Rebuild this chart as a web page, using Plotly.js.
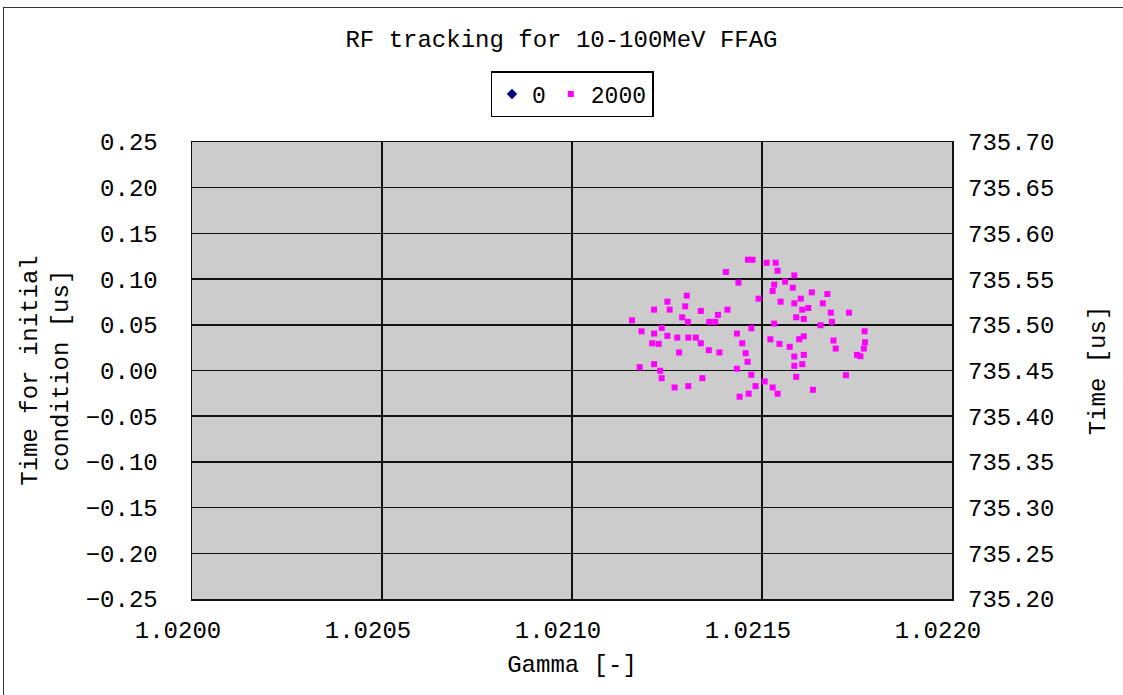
<!DOCTYPE html>
<html>
<head>
<meta charset="utf-8">
<script src="https://cdn.plot.ly/plotly-3.0.1.min.js"></script>
<style>
  html, body { margin: 0; padding: 0; background: #ffffff; overflow: hidden; }
  #frame { position: absolute; left: 3px; top: 7px; width: 1300px; height: 900px; border: 1.5px solid #333; pointer-events: none; z-index: 5; }
  #chart { position: absolute; left: 0; top: 0; width: 1123px; height: 695px; }
</style>
</head>
<body>
<div id="chart"></div>
<div id="frame"></div>
<script>
// Series "0" (initial condition) - no point visible in the plotted range
const gamma0 = [null];
const time0 = [null];

// Series "2000" (after 2000 turns): Gamma [-] and Time [us]
const gamma2000 = [
  1.021158, 1.021183, 1.021216, 1.021251, 1.021257, 1.021302, 1.021298, 1.021290, 1.021305, 1.021236,
  1.021216, 1.021251, 1.021277, 1.021211, 1.021228, 1.021282, 1.021178, 1.021216, 1.021232, 1.021236,
  1.021270, 1.021306, 1.021306, 1.021463, 1.021475, 1.021405, 1.021438, 1.021339, 1.021384, 1.021409,
  1.021491, 1.021361, 1.021377, 1.021472, 1.021434, 1.021326, 1.021339, 1.021448, 1.021360, 1.021388,
  1.021457, 1.021462, 1.021434, 1.021472, 1.021343, 1.021483, 1.021465, 1.021441, 1.021512, 1.021536,
  1.021541, 1.021585, 1.021561, 1.021532, 1.021528, 1.021581, 1.021631, 1.021672, 1.021549, 1.021585,
  1.021602, 1.021606, 1.021622, 1.021660, 1.021590, 1.021610, 1.021532, 1.021654, 1.021681, 1.021522,
  1.021546, 1.021573, 1.021598, 1.021610, 1.021585, 1.021610, 1.021585, 1.021606, 1.021590, 1.021507,
  1.021528, 1.021541, 1.021634, 1.021729, 1.021684, 1.021770, 1.021688, 1.021694, 1.021771, 1.021768,
  1.021750, 1.021759, 1.021721
];
const time2000 = [
  735.5049, 735.4929, 735.5166, 735.5253, 735.5166, 735.5319, 735.5202, 735.5082, 735.5032, 735.4966,
  735.4904, 735.4879, 735.4860, 735.4798, 735.4791, 735.4697, 735.4536, 735.4569, 735.4497, 735.4416,
  735.4314, 735.4329, 735.4860, 735.5712, 735.5712, 735.5578, 735.5461, 735.5152, 735.5108, 735.5166,
  735.5286, 735.5032, 735.5032, 735.4962, 735.4904, 735.4860, 735.4798, 735.4798, 735.4722, 735.4697,
  735.4689, 735.4595, 735.4519, 735.4453, 735.4416, 735.4329, 735.4246, 735.4213, 735.5679, 735.5679,
  735.5592, 735.5540, 735.5472, 735.5439, 735.5370, 735.5406, 735.5355, 735.5337, 735.5253, 735.5235,
  735.5286, 735.5166, 735.5184, 735.5235, 735.5082, 735.5064, 735.5013, 735.4995, 735.5133, 735.4842,
  735.4791, 735.4759, 735.4842, 735.4874, 735.4653, 735.4671, 735.4551, 735.4569, 735.4431, 735.4380,
  735.4314, 735.4246, 735.4289, 735.5133, 735.5032, 735.4929, 735.4828, 735.4740, 735.4809, 735.4740,
  735.4671, 735.4656, 735.4449
];

const chartTitle = "RF tracking for 10-100MeV FFAG";
const xTitle = "Gamma [-]";
const yTitle = "Time for initial<br>condition [us]";
const y2Title = "Time [us]";

const FONT = "'Liberation Mono', 'Courier New', monospace";
const FS = 24;

const traces = [
  {
    x: gamma0, y: time0, name: "0", type: "scatter", mode: "markers",
    yaxis: "y",
    marker: { symbol: "diamond", size: 8, color: "#000080", line: { width: 0 } }
  },
  {
    x: gamma2000, y: time2000, name: "2000", type: "scatter", mode: "markers",
    yaxis: "y2",
    marker: { symbol: "square", size: 6, color: "#ff00ff", line: { width: 0 } }
  }
];

const layout = {
  width: 1123, height: 695,
  margin: { l: 192, r: 171, t: 142, b: 96, pad: 0 },
  paper_bgcolor: "#ffffff",
  plot_bgcolor: "#cccccc",
  font: { family: FONT, size: FS, color: "#000000" },
  title: {
    text: chartTitle, font: { family: FONT, size: FS, color: "#000" },
    xref: "container", x: 0.5, xanchor: "center",
    yref: "container", y: 1 - 39 / 695, yanchor: "middle"
  },
  showlegend: true,
  legend: {
    orientation: "h", x: 0.5, xanchor: "center", xref: "paper",
    y: 1 + (142 - 94) / 457, yanchor: "middle", yref: "paper",
    bgcolor: "#ffffff", bordercolor: "#000000", borderwidth: 1.5,
    font: { family: FONT, size: 23 }, itemwidth: 30, traceorder: "normal"
  },
  xaxis: {
    range: [1.0200, 1.0220], dtick: 0.0005, tick0: 1.0200, tickformat: ".4f",
    showgrid: true, gridcolor: "#111111", gridwidth: 1.5,
    showline: true, linecolor: "#111111", linewidth: 1.5, mirror: true,
    zeroline: false, ticks: "", ticklabelstandoff: 9, ticklabelshift: -14,
    tickfont: { family: FONT, size: FS },
    title: { text: xTitle, font: { family: FONT, size: FS }, standoff: 11 }
  },
  yaxis: {
    range: [-0.25, 0.25], dtick: 0.05, tick0: 0, tickformat: ".2f",
    showgrid: true, gridcolor: "#111111", gridwidth: 1.5,
    showline: true, linecolor: "#111111", linewidth: 1.5, mirror: true,
    zeroline: false, ticks: "", ticklabelstandoff: 28,
    tickfont: { family: FONT, size: FS },
    title: { text: yTitle, font: { family: FONT, size: FS }, standoff: 10 }
  },
  yaxis2: {
    overlaying: "y", side: "right",
    range: [735.20, 735.70], dtick: 0.05, tick0: 735.20, tickformat: ".2f",
    showgrid: false, zeroline: false, showline: false, ticks: "", ticklabelstandoff: 15,
    tickfont: { family: FONT, size: FS },
    title: { text: y2Title, font: { family: FONT, size: FS }, standoff: 34 }
  }
};

Plotly.newPlot("chart", traces, layout, { displayModeBar: false, staticPlot: true });
</script>
</body>
</html>
